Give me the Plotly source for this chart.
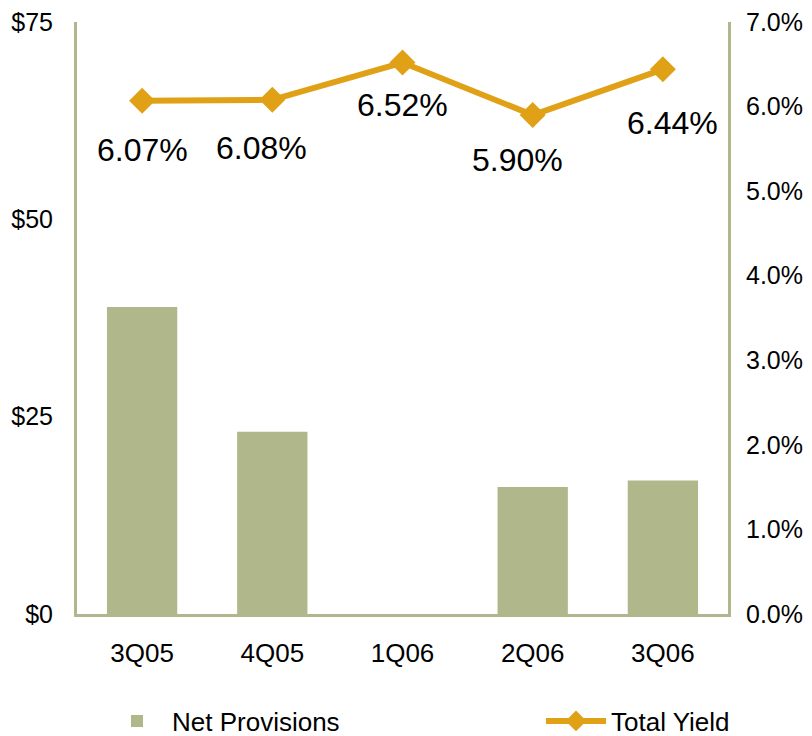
import plotly.graph_objects as go

categories = ["3Q05", "4Q05", "1Q06", "2Q06", "3Q06"]
net_provisions = [38.9, 23.1, 0.0, 16.1, 16.9]
total_yield = [6.07, 6.08, 6.52, 5.90, 6.44]
yield_labels = ["6.07%", "6.08%", "6.52%", "5.90%", "6.44%"]
left_ticks = [0, 25, 50, 75]
left_tick_text = ["$0", "$25", "$50", "$75"]
right_ticks = [0, 1, 2, 3, 4, 5, 6, 7]
right_tick_text = ["0.0%", "1.0%", "2.0%", "3.0%", "4.0%", "5.0%", "6.0%", "7.0%"]

label_xshift = [0, -11, 0, -15, 10]
label_yshift = [-49, -48, -42, -45, -54]

FONT = "Liberation Sans, Arial, sans-serif"
AXIS_COLOR = "#b1b78d"
BAR_COLOR = "#b0b78a"
LINE_COLOR = "#e0a117"

W, H = 804, 728

fig = go.Figure()
fig.add_trace(go.Bar(
    x=categories, y=net_provisions, name="Net Provisions",
    marker=dict(color=BAR_COLOR, line=dict(width=0)),
    yaxis="y", width=0.54, legend="legend",
))
fig.add_trace(go.Scatter(
    x=categories, y=total_yield, name="Total Yield", yaxis="y2",
    mode="lines+markers",
    line=dict(color=LINE_COLOR, width=6),
    marker=dict(symbol="diamond", size=20, color=LINE_COLOR),
    legend="legend2",
))

for c, v, t, dx, dy in zip(categories, total_yield, yield_labels, label_xshift, label_yshift):
    fig.add_annotation(x=c, y=v, xref="x", yref="y2", text=t, showarrow=False,
                       xshift=dx, yshift=dy, font=dict(size=32, color="#000000", family=FONT))

fig.update_layout(
    width=W, height=H,
    margin=dict(l=69, r=84, t=14, b=122, autoexpand=False),
    paper_bgcolor="white", plot_bgcolor="white",
    font=dict(family=FONT, size=25, color="#000000"),
    showlegend=True,
    legend=dict(orientation="h", xref="container", yref="container",
                x=94 / W, y=15 / H, xanchor="left", yanchor="middle",
                font=dict(size=26, family=FONT), itemwidth=60, bgcolor="rgba(0,0,0,0)"),
    legend2=dict(orientation="h", xref="container", yref="container",
                 x=533 / W, y=15 / H, xanchor="left", yanchor="middle",
                 font=dict(size=26, family=FONT), itemwidth=60, bgcolor="rgba(0,0,0,0)"),
    xaxis=dict(showline=True, linecolor=AXIS_COLOR, linewidth=3, ticks="",
               showgrid=False, tickfont=dict(size=26), ticklabelstandoff=14),
    yaxis=dict(range=[0, 75], tickvals=left_ticks, ticktext=left_tick_text,
               showline=True, linecolor=AXIS_COLOR, linewidth=3, ticks="",
               showgrid=False, zeroline=False, tickfont=dict(size=25), ticklabelstandoff=16,
               ticklabeloverflow="allow"),
    yaxis2=dict(range=[0, 7], tickvals=right_ticks, ticktext=right_tick_text,
                overlaying="y", side="right",
                showline=True, linecolor=AXIS_COLOR, linewidth=3, ticks="",
                showgrid=False, zeroline=False, tickfont=dict(size=25), ticklabelstandoff=10,
                ticklabeloverflow="allow"),
)

fig.write_html("out.html")
